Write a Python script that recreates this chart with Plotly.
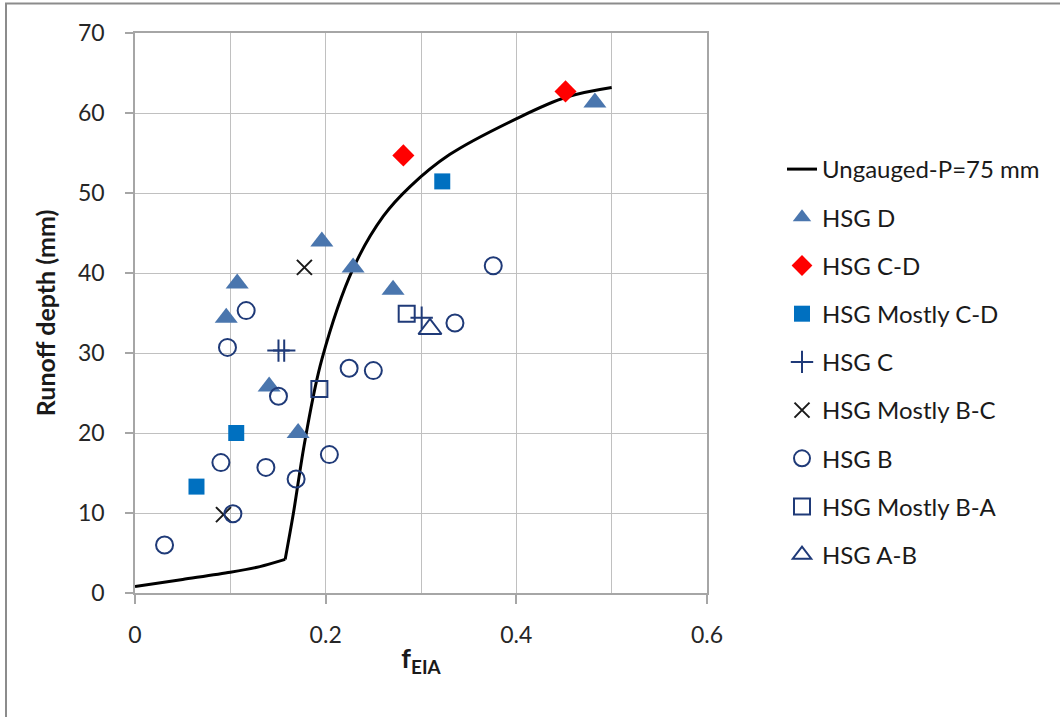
import plotly.graph_objects as go

# Ungauged curve (P = 75 mm): lower branch up to the kink, then the upper branch
curve_low_x = [0, 0.05, 0.1, 0.131, 0.1575]
curve_low_y = [0.8, 1.7, 2.6, 3.3, 4.2]
curve_up_x = [0.1575, 0.1662, 0.1785, 0.196, 0.229, 0.2605, 0.2885, 0.33, 0.4003, 0.4527, 0.5]
curve_up_y = [4.2, 10, 19.2, 29.2, 40.6, 47.1, 50.8, 54.8, 59.3, 62.0, 63.2]

hsg_d_x = [0.0957, 0.1072, 0.1407, 0.1711, 0.1960, 0.2288, 0.2707, 0.4824]
hsg_d_y = [34.4, 38.7, 25.8, 20.0, 43.95, 40.7, 37.9, 61.3]

hsg_cd_x = [0.2815, 0.4516]
hsg_cd_y = [54.7, 62.7]

hsg_mcd_x = [0.3223, 0.1062, 0.0645]
hsg_mcd_y = [51.45, 20.0, 13.3]

hsg_c_x = [0.1505, 0.1565, 0.3007]
hsg_c_y = [30.3, 30.3, 34.4]

hsg_mbc_x = [0.1777, 0.0928]
hsg_mbc_y = [40.7, 9.8]

hsg_b_x = [0.031, 0.1027, 0.0901, 0.1373, 0.169, 0.2039, 0.1505, 0.097, 0.1166,
           0.2246, 0.25, 0.3356, 0.3758]
hsg_b_y = [6.0, 9.9, 16.3, 15.7, 14.25, 17.3, 24.6, 30.7, 35.3,
           28.1, 27.8, 33.75, 40.9]

hsg_mba_x = [0.1934, 0.285]
hsg_mba_y = [25.5, 34.9]

hsg_ab_x = [0.3094]
hsg_ab_y = [33.0]

x_ticks = [0, 0.2, 0.4, 0.6]
x_tick_text = ["0", "0.2", "0.4", "0.6"]
y_ticks = [0, 10, 20, 30, 40, 50, 60, 70]

FONT = "Lato"
NAVY = "#1F3A78"

fig = go.Figure()

fig.add_trace(go.Scatter(x=curve_low_x, y=curve_low_y, mode="lines", name="Ungauged-P=75 mm",
                         line=dict(color="black", width=3, shape="spline", smoothing=0.8),
                         legendgroup="g0"))
fig.add_trace(go.Scatter(x=curve_up_x, y=curve_up_y, mode="lines", name="Ungauged-P=75 mm",
                         line=dict(color="black", width=3, shape="spline", smoothing=1.0),
                         legendgroup="g0", showlegend=False))
fig.add_trace(go.Scatter(x=hsg_d_x, y=hsg_d_y, mode="markers", name="HSG D", legendgroup="g1",
                         marker=dict(symbol="triangle-up", size=20, color="#4A76AE")))
fig.add_trace(go.Scatter(x=hsg_cd_x, y=hsg_cd_y, mode="markers", name="HSG C-D", legendgroup="g2",
                         marker=dict(symbol="diamond", size=17, color="#FF0000")))
fig.add_trace(go.Scatter(x=hsg_mcd_x, y=hsg_mcd_y, mode="markers", name="HSG Mostly C-D", legendgroup="g3",
                         marker=dict(symbol="square", size=16, color="#0070C0")))
fig.add_trace(go.Scatter(x=hsg_c_x, y=hsg_c_y, mode="markers", name="HSG C", legendgroup="g4",
                         marker=dict(symbol="cross-thin-open", size=16, color=NAVY,
                                     line=dict(width=2, color=NAVY))))
fig.add_trace(go.Scatter(x=hsg_mbc_x, y=hsg_mbc_y, mode="markers", name="HSG Mostly B-C", legendgroup="g5",
                         marker=dict(symbol="x-thin-open", size=15, color="#1A1A1A",
                                     line=dict(width=2, color="#1A1A1A"))))
fig.add_trace(go.Scatter(x=hsg_b_x, y=hsg_b_y, mode="markers", name="HSG B", legendgroup="g6",
                         marker=dict(symbol="circle-open", size=17, color=NAVY,
                                     line=dict(width=2, color=NAVY))))
fig.add_trace(go.Scatter(x=hsg_mba_x, y=hsg_mba_y, mode="markers", name="HSG Mostly B-A", legendgroup="g7",
                         marker=dict(symbol="square-open", size=16, color=NAVY,
                                     line=dict(width=2, color=NAVY))))
fig.add_trace(go.Scatter(x=hsg_ab_x, y=hsg_ab_y, mode="markers", name="HSG A-B", legendgroup="g8",
                         marker=dict(symbol="triangle-up-open", size=20, color=NAVY,
                                     line=dict(width=2, color=NAVY))))

L, R, T, B = 135, 353, 33, 124
W, H = 1060, 717
pw, ph = W - L - R, H - T - B


def px2paper_x(px):
    return (px - L) / pw


def px2paper_y(py):
    return (H - B - py) / ph


fig.add_shape(type="rect", xref="paper", yref="paper",
              x0=px2paper_x(6), x1=px2paper_x(1075), y0=px2paper_y(730), y1=px2paper_y(3.5),
              line=dict(color="#8C8C8C", width=2), layer="below")

fig.update_layout(
    width=W, height=H,
    margin=dict(l=L, r=R, t=T, b=B, autoexpand=False),
    paper_bgcolor="white", plot_bgcolor="white",
    font=dict(family=FONT, size=23, color="#262626"),
    showlegend=True,
    legend=dict(x=px2paper_x(782), y=px2paper_y(147), xanchor="left", yanchor="top",
                font=dict(family=FONT, size=24, color="#1A1A1A"),
                traceorder="grouped", tracegroupgap=14, bgcolor="rgba(0,0,0,0)"),
    xaxis=dict(range=[0, 0.6], tickvals=x_ticks, ticktext=x_tick_text,
               showgrid=True, gridcolor="#C0C0C0", gridwidth=1,
               minor=dict(dtick=0.1, showgrid=True, gridcolor="#C0C0C0", gridwidth=1, ticks=""),
               showline=True, linecolor="#A6A6A6", linewidth=1.5, mirror=True,
               ticks="outside", ticklen=9, tickcolor="#A6A6A6", tickwidth=1.5,
               ticklabelstandoff=12, zeroline=False, automargin=False,
               title=dict(text="<b>f<sub>EIA</sub></b>", font=dict(family=FONT, size=27, color="#1A1A1A"),
                          standoff=2)),
    yaxis=dict(range=[0, 70], tickvals=y_ticks,
               showgrid=True, gridcolor="#C0C0C0", gridwidth=1,
               showline=True, linecolor="#A6A6A6", linewidth=1.5, mirror=True,
               ticks="outside", ticklen=8, tickcolor="#A6A6A6", tickwidth=1.5,
               ticklabelstandoff=16, zeroline=False, automargin=False,
               title=dict(text="<b>Runoff depth (mm)</b>", font=dict(family=FONT, size=25, color="#1A1A1A"),
                          standoff=15)),
)

fig.write_html("out.html")
